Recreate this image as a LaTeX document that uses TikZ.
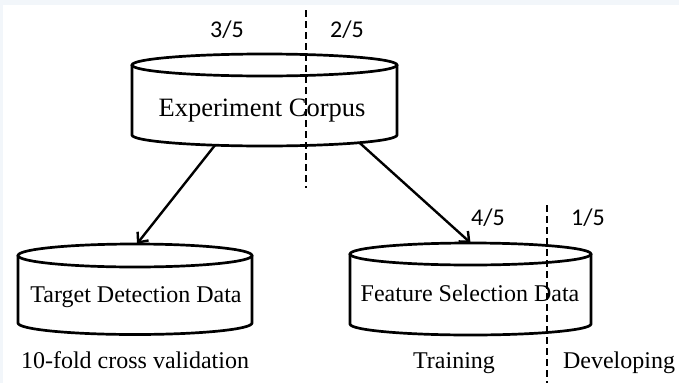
\documentclass[tikz,border=0pt]{standalone}
\usepackage{fontspec}
\setmainfont{Liberation Serif}
\newfontfamily\fracfont{Carlito}
\usetikzlibrary{arrows.meta}
\definecolor{edgeband}{HTML}{F2F6FA}

% drum outline: centre x, half width, top ellipse y, y radius, side bottom y
\newcommand\drawdrum[5]{%
  \draw[outline] (#1,#3) ellipse [x radius=#2, y radius=#4];
  \draw[outline] (#1-#2,#3) -- (#1-#2,#5)
    arc[start angle=180, end angle=0, x radius=#2, y radius=#4] -- (#1+#2,#3);
}

\begin{document}
\begin{tikzpicture}[x=1pt, y=-1pt,
  outline/.style={line width=2.7pt, black},
  link/.style={line width=2.4pt, -{Straight Barb[length=8pt,width=14pt,line width=2.4pt]}},
  split/.style={line width=2.2pt, dash pattern=on 7pt off 4pt},
  label/.style={font=\fontsize{24}{28}\selectfont, anchor=base, inner sep=0pt},
  frac/.style={font=\fracfont\fontsize{24}{28}\selectfont, anchor=base, inner sep=0pt},
  store/.style={draw=none, inner sep=0pt}]
\useasboundingbox (0,0) rectangle (679,383);
\fill[white] (0,0) rectangle (679,383);
\fill[edgeband] (0,0) rectangle (679,5);
\fill[edgeband] (0,0) rectangle (3,383);

% storage drums
\node[store, minimum width=265pt, minimum height=92pt] (corpus) at (264.5,100) {};
\node[store, minimum width=234pt, minimum height=91pt] (tdd) at (135,289.5) {};
\node[store, minimum width=241pt, minimum height=92pt] (fsd) at (470.5,289) {};

\drawdrum{264.5}{132.5}{65}{11}{135}
\drawdrum{135}{117}{255.5}{11.5}{323}
\drawdrum{470.5}{120.5}{254}{11}{324}

% drum labels
\node[label, font=\fontsize{26.5}{30}\selectfont] (corpustext) at (262,116) {Experiment Corpus};
\node[label] (tddtext) at (136,302) {Target Detection Data};
\node[label] (fsdtext) at (470,301.5) {Feature Selection Data};

% split markers
\coordinate (cutAtop) at (306,10);
\coordinate (cutAbot) at (306,188);
\coordinate (cutBtop) at (547,205);
\coordinate (cutBbot) at (547,383);
\draw[split] (cutAtop) -- (cutAbot);
\draw[split] (cutBtop) -- (cutBbot);

\node[frac] (f35) at (227,37) {3/5};
\node[frac] (f25) at (347,37) {2/5};
\node[frac] (f45) at (488,225) {4/5};
\node[frac] (f15) at (588,225) {1/5};

% data flow
\draw[link] ([shift={(-49.5pt,1pt)}]corpus.south) -- ([xshift=2pt]tdd.north);
\draw[link] ([shift={(95.5pt,3pt)}]corpus.south) -- (fsd.north);

% usage notes
\node[label] (cv) at (135,368) {10-fold cross validation};
\node[label] (train) at (454,368) {Training};
\node[label] (dev) at (619,368) {Developing};
\end{tikzpicture}
\end{document}
